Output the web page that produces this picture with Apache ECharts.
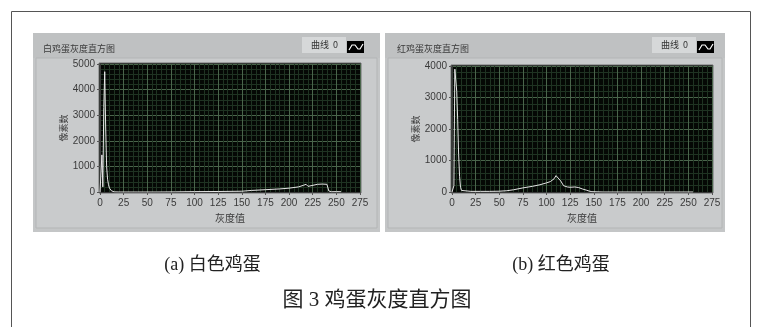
<!DOCTYPE html>
<html><head><meta charset="utf-8">
<script src="https://cdn.jsdelivr.net/npm/echarts@6/dist/echarts.min.js"></script>
<style>html,body{margin:0;padding:0;background:#fff}#c{width:757px;height:327px}</style>
</head><body><div id="c"></div>
<script>
// ---- data ----
const xTicks = [0, 25, 50, 75, 100, 125, 150, 175, 200, 225, 250, 275];
const whiteYTicks = [0, 1000, 2000, 3000, 4000, 5000];
const redYTicks = [0, 1000, 2000, 3000, 4000];

const whiteGray  = [0, 1, 2, 3, 4, 5, 6, 7, 8, 9, 10, 11, 12, 13, 15, 20, 40, 60, 80, 100, 125, 150, 160, 175, 190, 200, 210, 215, 218, 220, 222, 230, 235, 237, 240, 242, 245, 250, 255];
const whiteCount = [0, 0, 1450, 200, 3300, 4700, 2500, 1000, 500, 280, 150, 80, 50, 20, 5, 0, 0, 0, 5, 15, 20, 30, 60, 90, 120, 150, 200, 260, 300, 220, 290, 300, 310, 350, 300, 40, 10, 15, 10];

const redGray  = [0, 1, 2, 3, 4, 5, 6, 7, 8, 9, 10, 11, 20, 30, 40, 50, 58, 65, 75, 85, 93, 100, 104, 108, 110, 112, 115, 118, 122, 125, 130, 134, 138, 142, 145, 148, 150, 160, 200, 255];
const redCount = [0, 0, 200, 3900, 3850, 3200, 2300, 1200, 500, 150, 50, 25, 20, 20, 20, 25, 40, 70, 130, 180, 230, 290, 330, 420, 520, 470, 350, 200, 160, 150, 160, 140, 95, 60, 30, 10, 0, 0, 0, 0];

const panelTitles = ['白鸡蛋灰度直方图', '红鸡蛋灰度直方图'];
const legendName = '曲线 0';
const xName = '灰度值';
const yName = '像素数';
const captions = ['(a) 白色鸡蛋', '(b) 红色鸡蛋'];
const figCaption = '图 3 鸡蛋灰度直方图';

// ---- build ----
const chart = echarts.init(document.getElementById('c'), null, {renderer: 'canvas'});
const pairs = (xs, ys) => xs.map((x, i) => [x, ys[i]]);

const panels = [
  {x: 33, w: 347, grid: {left: 100, top: 64, width: 260, height: 128}, legX: 302, titleX: 43},
  {x: 385, w: 340, grid: {left: 452, top: 66, width: 260, height: 126}, legX: 652, titleX: 397}
];

function xAxisOpt(i) {
  return {
    gridIndex: i, type: 'value', min: xTicks[0], max: xTicks[xTicks.length - 1], interval: xTicks[1] - xTicks[0],
    name: xName, nameLocation: 'middle', nameGap: 21,
    nameTextStyle: {fontSize: 10, color: '#3a3a3a', fontFamily: 'Noto Sans CJK SC'},
    axisLine: {show: true, onZero: false, lineStyle: {color: '#3a3a3a', width: 1}},
    axisTick: {show: true, inside: false, length: 3, lineStyle: {color: '#555'}},
    axisLabel: {fontSize: 10, color: '#3a3a3a', margin: 6, fontFamily: 'Liberation Sans', formatter: v => String(v)},
    splitLine: {show: true, lineStyle: {color: '#4a654b', width: 1}},
    minorTick: {show: false, splitNumber: 5},
    minorSplitLine: {show: true, lineStyle: {color: '#1f3322', width: 1}}
  };
}
function yAxisOpt(i, ticks) {
  return {
    gridIndex: i, type: 'value', min: ticks[0], max: ticks[ticks.length - 1], interval: ticks[1] - ticks[0],
    name: yName, nameLocation: 'middle', nameGap: 32,
    nameTextStyle: {fontSize: 9, color: '#3a3a3a', fontFamily: 'Noto Sans CJK SC'},
    axisLine: {show: true, lineStyle: {color: '#3a3a3a', width: 1}},
    axisTick: {show: true, inside: false, length: 3, lineStyle: {color: '#555'}},
    axisLabel: {fontSize: 10, color: '#3a3a3a', margin: 5, fontFamily: 'Liberation Sans', formatter: v => String(v)},
    splitLine: {show: true, lineStyle: {color: '#4a654b', width: 1}},
    minorTick: {show: false, splitNumber: 5},
    minorSplitLine: {show: true, lineStyle: {color: '#1f3322', width: 1}}
  };
}

const graphics = [
  {type: 'rect', z: -20, shape: {x: 11.5, y: 11.5, width: 739, height: 340}, style: {fill: '#fff', stroke: '#555', lineWidth: 1}}
];
panels.forEach((p, i) => {
  graphics.push(
    {type: 'rect', z: -10, shape: {x: p.x, y: 33, width: p.w, height: 199}, style: {fill: '#c4c6c7'}},
    {type: 'rect', z: -9, shape: {x: p.x, y: 33, width: p.w, height: 25}, style: {fill: '#bfc1c2'}},
    {type: 'rect', z: -9, shape: {x: p.x + 3, y: 58, width: p.w - 6, height: 170}, style: {fill: '#c9cbcc', stroke: '#b3b5b6', lineWidth: 1}},
    {type: 'rect', z: -8, shape: {x: p.grid.left - 1, y: p.grid.top - 1, width: p.grid.width + 2, height: p.grid.height + 2}, style: {fill: '#050805', stroke: '#6c6e6f', lineWidth: 1}},
    {type: 'rect', z: -8, shape: {x: p.legX, y: 37, width: 44, height: 16}, style: {fill: '#d6d8d9'}},
    {type: 'text', z: 5, x: p.legX + 9, y: 45, style: {text: '曲线\u00a0\u00a00', fontSize: 9, fill: '#333', verticalAlign: 'middle', fontFamily: 'Noto Sans CJK SC'}},
    {type: 'rect', z: 5, shape: {x: p.legX + 45, y: 41, width: 17, height: 12}, style: {fill: '#000'}},
    {type: 'polyline', z: 6, shape: {points: [[p.legX + 47, 50], [p.legX + 50, 45], [p.legX + 53, 45], [p.legX + 56, 49], [p.legX + 58, 49], [p.legX + 61, 44]]}, style: {stroke: '#fff', lineWidth: 1.2, fill: null}},
    {type: 'text', z: 5, x: p.titleX, y: 49, style: {text: panelTitles[i], fontSize: 9, fill: '#3a3a3a', verticalAlign: 'middle', fontFamily: 'Noto Sans CJK SC'}},
    {type: 'text', z: 5, x: p.x + p.w / 2 + 6, y: 265, style: {text: captions[i], fontSize: 18, fill: '#222', align: 'center', verticalAlign: 'middle', fontFamily: 'Liberation Serif, Noto Sans CJK SC'}}
  );
});
graphics.push({type: 'text', z: 5, x: 377, y: 300, style: {text: figCaption, fontSize: 21, fill: '#222', align: 'center', verticalAlign: 'middle', fontFamily: 'Liberation Serif, Noto Sans CJK SC'}});

chart.setOption({
  animation: false,
  backgroundColor: '#fff',
  graphic: {elements: graphics},
  grid: panels.map(p => Object.assign({show: false, containLabel: false}, p.grid)),
  xAxis: [xAxisOpt(0), xAxisOpt(1)],
  yAxis: [yAxisOpt(0, whiteYTicks), yAxisOpt(1, redYTicks)],
  series: [
    {name: legendName, type: 'line', xAxisIndex: 0, yAxisIndex: 0, data: pairs(whiteGray, whiteCount), showSymbol: false, symbol: 'none', lineStyle: {color: '#e6e6e6', width: 1}, z: 10},
    {name: legendName, type: 'line', xAxisIndex: 1, yAxisIndex: 1, data: pairs(redGray, redCount), showSymbol: false, symbol: 'none', lineStyle: {color: '#e6e6e6', width: 1}, z: 10}
  ]
});
</script>
</body></html>
